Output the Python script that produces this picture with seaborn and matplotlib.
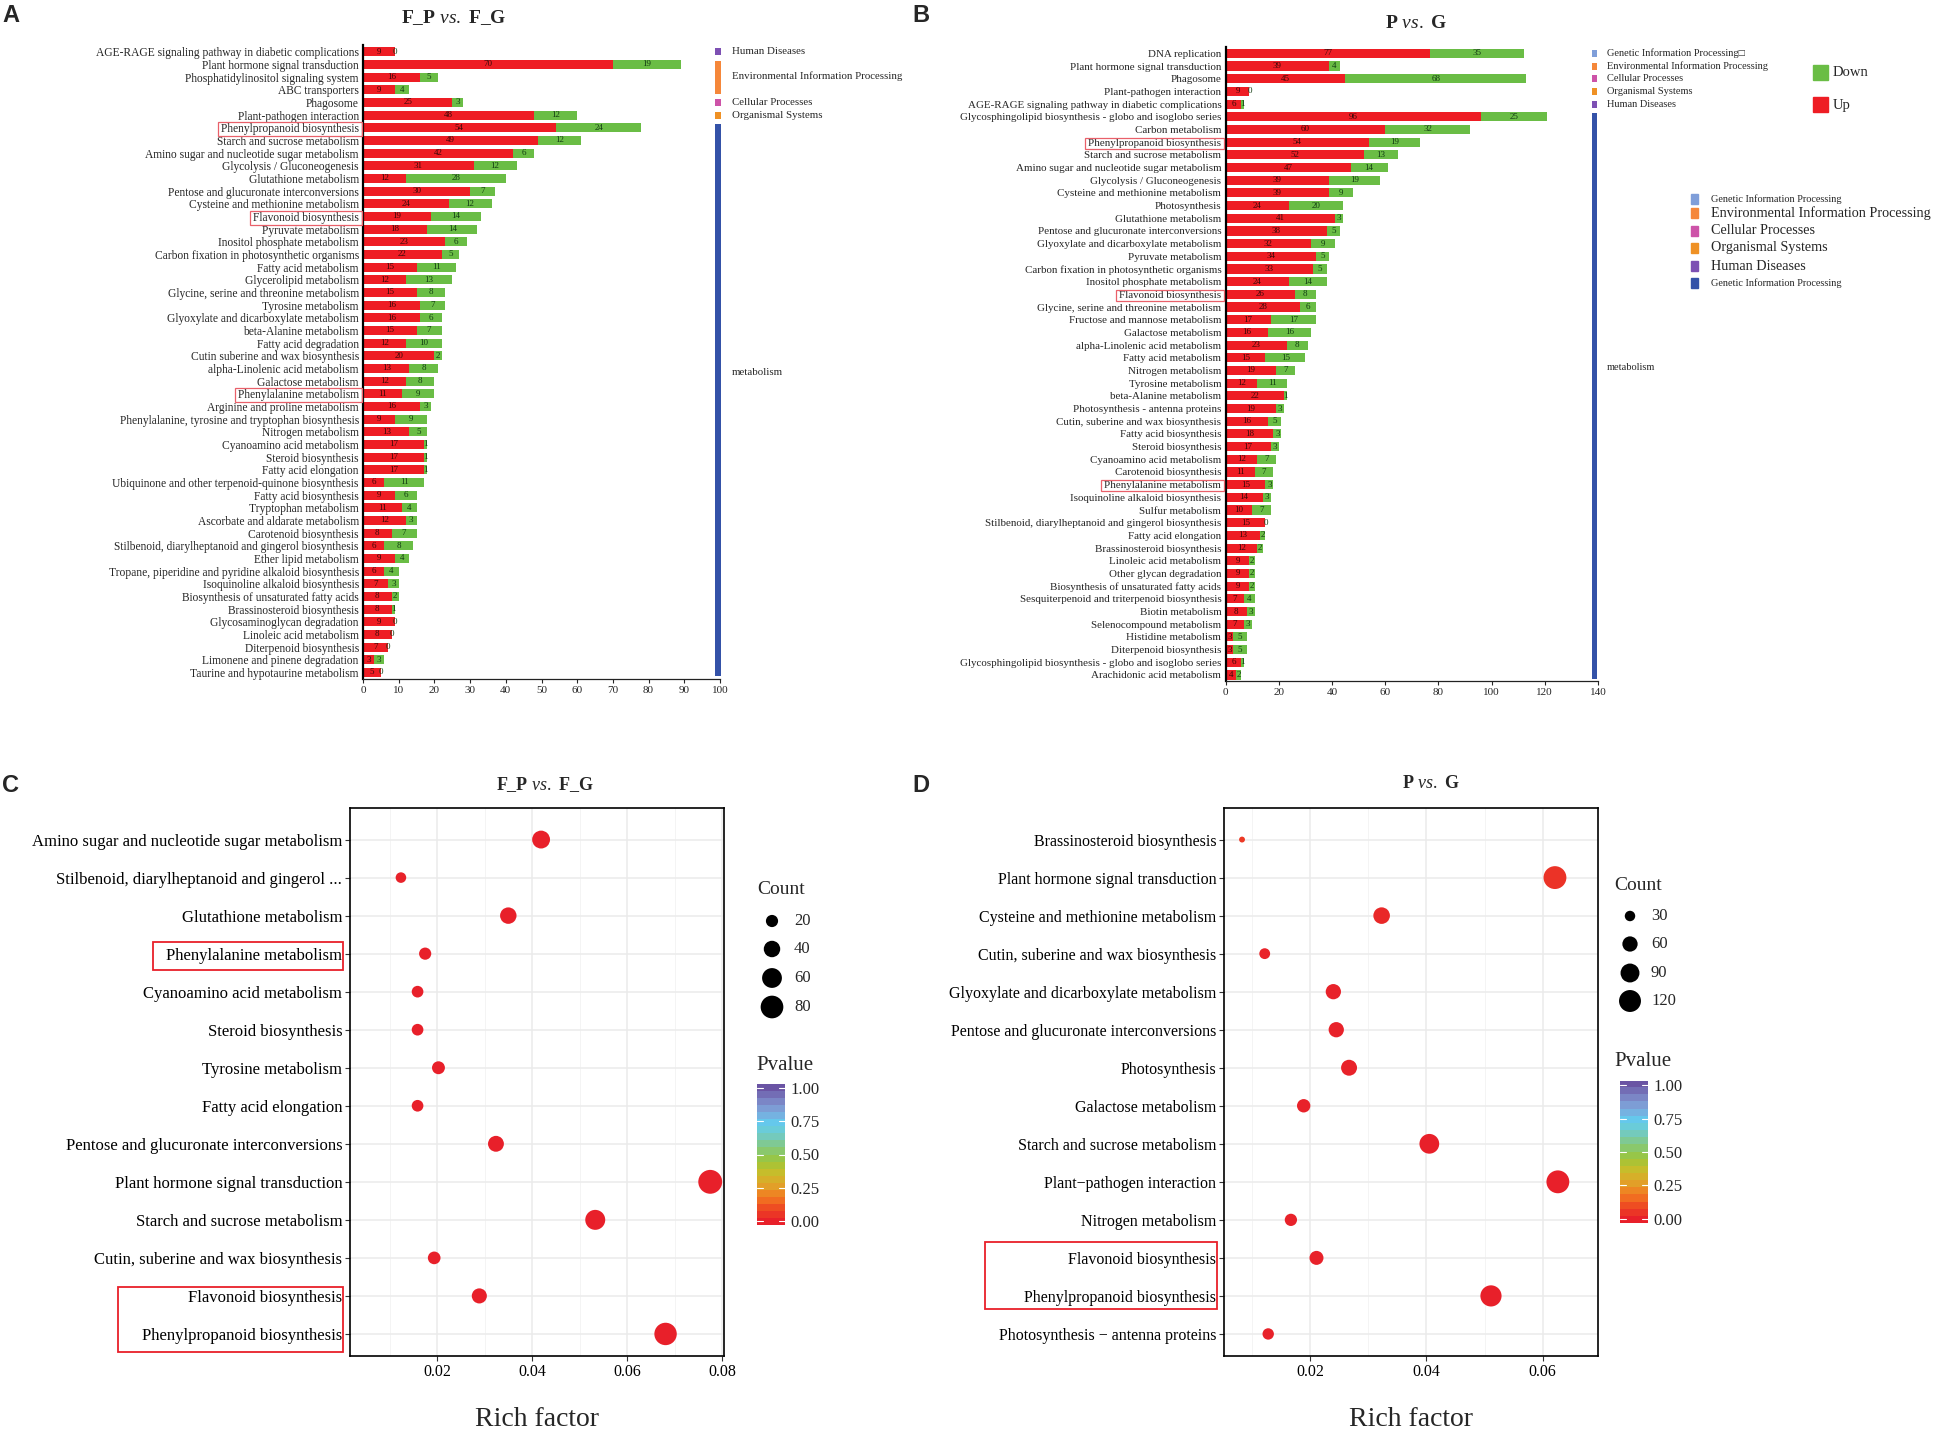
import numpy as np
import pandas as pd
import matplotlib
matplotlib.use("Agg")
import matplotlib.pyplot as plt
from matplotlib.colors import LinearSegmentedColormap
from matplotlib.patches import Rectangle
import seaborn as sns

# ---------------- data ----------------
# panel A: F_P vs. F_G, number of up / down genes per KEGG pathway
a_names = [
    "AGE-RAGE signaling pathway in diabetic complications",
    "Plant hormone signal transduction",
    "Phosphatidylinositol signaling system",
    "ABC transporters",
    "Phagosome",
    "Plant-pathogen interaction",
    "Phenylpropanoid biosynthesis",
    "Starch and sucrose metabolism",
    "Amino sugar and nucleotide sugar metabolism",
    "Glycolysis / Gluconeogenesis",
    "Glutathione metabolism",
    "Pentose and glucuronate interconversions",
    "Cysteine and methionine metabolism",
    "Flavonoid biosynthesis",
    "Pyruvate metabolism",
    "Inositol phosphate metabolism",
    "Carbon fixation in photosynthetic organisms",
    "Fatty acid metabolism",
    "Glycerolipid metabolism",
    "Glycine, serine and threonine metabolism",
    "Tyrosine metabolism",
    "Glyoxylate and dicarboxylate metabolism",
    "beta-Alanine metabolism",
    "Fatty acid degradation",
    "Cutin suberine and wax biosynthesis",
    "alpha-Linolenic acid metabolism",
    "Galactose metabolism",
    "Phenylalanine metabolism",
    "Arginine and proline metabolism",
    "Phenylalanine, tyrosine and tryptophan biosynthesis",
    "Nitrogen metabolism",
    "Cyanoamino acid metabolism",
    "Steroid biosynthesis",
    "Fatty acid elongation",
    "Ubiquinone and other terpenoid-quinone biosynthesis",
    "Fatty acid biosynthesis",
    "Tryptophan metabolism",
    "Ascorbate and aldarate metabolism",
    "Carotenoid biosynthesis",
    "Stilbenoid, diarylheptanoid and gingerol biosynthesis",
    "Ether lipid metabolism",
    "Tropane, piperidine and pyridine alkaloid biosynthesis",
    "Isoquinoline alkaloid biosynthesis",
    "Biosynthesis of unsaturated fatty acids",
    "Brassinosteroid biosynthesis",
    "Glycosaminoglycan degradation",
    "Linoleic acid metabolism",
    "Diterpenoid biosynthesis",
    "Limonene and pinene degradation",
    "Taurine and hypotaurine metabolism",
]
a_up = [9, 70, 16, 9, 25, 48, 54, 49, 42, 31, 12, 30, 24, 19, 18, 23, 22, 15, 12, 15,
        16, 16, 15, 12, 20, 13, 12, 11, 16, 9, 13, 17, 17, 17, 6, 9, 11, 12, 8, 6,
        9, 6, 7, 8, 8, 9, 8, 7, 3, 5]
a_down = [0, 19, 5, 4, 3, 12, 24, 12, 6, 12, 28, 7, 12, 14, 14, 6, 5, 11, 13, 8,
          7, 6, 7, 10, 2, 8, 8, 9, 3, 9, 5, 1, 1, 1, 11, 6, 4, 3, 7, 8,
          4, 4, 3, 2, 1, 0, 0, 0, 3, 0]
a_groups = [("Human Diseases", 0, 0), ("Environmental Information Processing", 1, 3),
            ("Cellular Processes", 4, 4), ("Organismal Systems", 5, 5), ("metabolism", 6, 49)]

# panel B: P vs. G
b_names = [
    "DNA replication",
    "Plant hormone signal transduction",
    "Phagosome",
    "Plant-pathogen interaction",
    "AGE-RAGE signaling pathway in diabetic complications",
    "Glycosphingolipid biosynthesis - globo and isoglobo series",
    "Carbon metabolism",
    "Phenylpropanoid biosynthesis",
    "Starch and sucrose metabolism",
    "Amino sugar and nucleotide sugar metabolism",
    "Glycolysis / Gluconeogenesis",
    "Cysteine and methionine metabolism",
    "Photosynthesis",
    "Glutathione metabolism",
    "Pentose and glucuronate interconversions",
    "Glyoxylate and dicarboxylate metabolism",
    "Pyruvate metabolism",
    "Carbon fixation in photosynthetic organisms",
    "Inositol phosphate metabolism",
    "Flavonoid biosynthesis",
    "Glycine, serine and threonine metabolism",
    "Fructose and mannose metabolism",
    "Galactose metabolism",
    "alpha-Linolenic acid metabolism",
    "Fatty acid metabolism",
    "Nitrogen metabolism",
    "Tyrosine metabolism",
    "beta-Alanine metabolism",
    "Photosynthesis - antenna proteins",
    "Cutin, suberine and wax biosynthesis",
    "Fatty acid biosynthesis",
    "Steroid biosynthesis",
    "Cyanoamino acid metabolism",
    "Carotenoid biosynthesis",
    "Phenylalanine metabolism",
    "Isoquinoline alkaloid biosynthesis",
    "Sulfur metabolism",
    "Stilbenoid, diarylheptanoid and gingerol biosynthesis",
    "Fatty acid elongation",
    "Brassinosteroid biosynthesis",
    "Linoleic acid metabolism",
    "Other glycan degradation",
    "Biosynthesis of unsaturated fatty acids",
    "Sesquiterpenoid and triterpenoid biosynthesis",
    "Biotin metabolism",
    "Selenocompound metabolism",
    "Histidine metabolism",
    "Diterpenoid biosynthesis",
    "Glycosphingolipid biosynthesis - globo and isoglobo series",
    "Arachidonic acid metabolism",
]
b_up = [77, 39, 45, 9, 6, 96, 60, 54, 52, 47, 39, 39, 24, 41, 38, 32, 34, 33, 24, 26,
        28, 17, 16, 23, 15, 19, 12, 22, 19, 16, 18, 17, 12, 11, 15, 14, 10, 15, 13, 12,
        9, 9, 9, 7, 8, 7, 3, 3, 6, 4]
b_down = [35, 4, 68, 0, 1, 25, 32, 19, 13, 14, 19, 9, 20, 3, 5, 9, 5, 5, 14, 8,
          6, 17, 16, 8, 15, 7, 11, 1, 3, 5, 3, 3, 7, 7, 3, 3, 7, 0, 2, 2,
          2, 2, 2, 4, 3, 3, 5, 5, 1, 2]
b_groups = [("Genetic Information Processing\u25a1", 0, 0), ("Environmental Information Processing", 1, 1),
            ("Cellular Processes", 2, 2), ("Organismal Systems", 3, 3), ("Human Diseases", 4, 4),
            ("metabolism", 5, 49)]
b_key = ["Genetic Information Processing", "Environmental Information Processing",
         "Cellular Processes", "Organismal Systems", "Human Diseases", "Genetic Information Processing"]

# panel C: F_P vs. F_G enrichment
c_names = [
    "Amino sugar and nucleotide sugar metabolism",
    "Stilbenoid, diarylheptanoid and gingerol ...",
    "Glutathione metabolism",
    "Phenylalanine metabolism",
    "Cyanoamino acid metabolism",
    "Steroid biosynthesis",
    "Tyrosine metabolism",
    "Fatty acid elongation",
    "Pentose and glucuronate interconversions",
    "Plant hormone signal transduction",
    "Starch and sucrose metabolism",
    "Cutin, suberine and wax biosynthesis",
    "Flavonoid biosynthesis",
    "Phenylpropanoid biosynthesis",
]
c_rich = [0.0419, 0.0124, 0.0350, 0.0175, 0.0159, 0.0159, 0.0203, 0.0159, 0.0324, 0.0775,
          0.0533, 0.0194, 0.0289, 0.0681]
c_count = [48, 14, 40, 20, 18, 18, 23, 18, 37, 89, 61, 22, 33, 78]
c_pval = [0.001, 0.004, 0.002, 0.003, 0.003, 0.003, 0.003, 0.003, 0.002, 0.001,
          0.001, 0.003, 0.002, 0.001]

# panel D: P vs. G enrichment
d_names = [
    "Brassinosteroid biosynthesis",
    "Plant hormone signal transduction",
    "Cysteine and methionine metabolism",
    "Cutin, suberine and wax biosynthesis",
    "Glyoxylate and dicarboxylate metabolism",
    "Pentose and glucuronate interconversions",
    "Photosynthesis",
    "Galactose metabolism",
    "Starch and sucrose metabolism",
    "Plant\u2212pathogen interaction",
    "Nitrogen metabolism",
    "Flavonoid biosynthesis",
    "Phenylpropanoid biosynthesis",
    "Photosynthesis \u2212 antenna proteins",
]
d_rich = [0.0083, 0.0621, 0.0323, 0.0122, 0.0240, 0.0245, 0.0267, 0.0189, 0.0405, 0.0626,
          0.0167, 0.0211, 0.0511, 0.0128]
d_count = [12, 132, 70, 32, 60, 60, 65, 47, 98, 138, 40, 51, 112, 35]
d_pval = [0.06, 0.045, 0.02, 0.008, 0.005, 0.005, 0.005, 0.005, 0.002, 0.001,
          0.005, 0.004, 0.001, 0.006]

# ---------------- style ----------------
RED = "#ee1d24"
GREEN = "#6abd45"
CAT_COLORS = {
    "Genetic": "#7f9ed9",
    "Environmental": "#f5873a",
    "Cellular": "#cd53a8",
    "Organismal": "#ef9125",
    "Human": "#7d50b3",
    "metabolism": "#3452a8",
}
PV_COLORS = ["#e8202a", "#ee4723", "#f37a21", "#e1a429", "#c9bd2b", "#9cc63b",
             "#86c97a", "#74cbc0", "#62cdee", "#7ea8dc", "#7b82c4", "#6a54a4"]
pcmap = LinearSegmentedColormap.from_list("pval", PV_COLORS)

sns.set_theme(style="ticks")
plt.rcParams["font.family"] = ["Liberation Serif", "DejaVu Sans"]
plt.rcParams["mathtext.fontset"] = "custom"
plt.rcParams["mathtext.rm"] = "Liberation Serif"
plt.rcParams["mathtext.it"] = "Liberation Serif:italic"
plt.rcParams["mathtext.bf"] = "Liberation Serif:bold"

W, H = 1938, 1435
fig = plt.figure(figsize=(W / 100, H / 100), dpi=100)
fig.patch.set_facecolor("white")


def add_ax(left, top, right, bottom):
    return fig.add_axes([left / W, 1 - bottom / H, (right - left) / W, (bottom - top) / H])


def cat_color(label):
    for k, c in CAT_COLORS.items():
        if label.startswith(k):
            return c
    return "grey"


def bar_panel(ax, names, up, down, xmax, step, groups, strip_x, strip_w, text_x, fs, gfs):
    n = len(names)
    df = pd.DataFrame({"key": [str(i) for i in range(n)], "up": up, "down": down})
    df["total"] = df["up"] + df["down"]
    order = list(df["key"])
    sns.barplot(data=df, x="total", y="key", order=order, color=GREEN, saturation=1,
                width=0.72, errorbar=None, linewidth=0, ax=ax)
    sns.barplot(data=df, x="up", y="key", order=order, color=RED, saturation=1,
                width=0.72, errorbar=None, linewidth=0, ax=ax)
    for i, (u, d) in enumerate(zip(up, down)):
        ax.text(u / 2, i, str(u), ha="center", va="center", fontsize=6.5, color="#3a0808")
        ax.text(u + d / 2, i, str(d), ha="center", va="center", fontsize=6.5, color="#123d12")
    for label, a, b in groups:
        h = (b - a) + 0.6 if b > a else 0.55
        ax.barh((a + b) / 2, strip_w, left=strip_x, height=h, color=cat_color(label),
                clip_on=False, linewidth=0)
        ax.text(text_x, a + (b - a) * 0.45, label, fontsize=gfs, va="center", ha="left",
                clip_on=False)
    ax.set_xlim(0, xmax)
    ax.set_ylim(n - 0.5, -0.5)
    ax.set_xticks(np.arange(0, xmax + 1, step))
    ax.set_yticks(range(n))
    ax.set_yticklabels(names)
    ax.set_xlabel("")
    ax.set_ylabel("")
    sns.despine(ax=ax)
    ax.spines["left"].set_linewidth(1.6)
    ax.spines["left"].set_color("black")
    ax.spines["bottom"].set_linewidth(0.9)
    ax.spines["bottom"].set_color("#222222")
    ax.tick_params(axis="y", length=0, pad=3, labelsize=fs)
    ax.tick_params(axis="x", length=3, width=0.8, pad=2, labelsize=8)


def size_fn(v, norm, rng):
    t = np.clip((np.asarray(v, float) - norm[0]) / (norm[1] - norm[0]), 0, 1)
    return rng[0] + t * (rng[1] - rng[0])


def bubble_panel(ax, names, rich, count, pval, snorm, srange, xlim, xmajor, xminor, fs):
    df = pd.DataFrame({"pathway": names, "rich": rich, "count": count, "p": pval})
    sns.scatterplot(data=df, x="rich", y="pathway", size="count", sizes=srange, size_norm=snorm,
                    hue="p", hue_norm=(0, 1), palette=pcmap, linewidth=0, legend=False,
                    ax=ax, zorder=3)
    ax.set_xlim(*xlim)
    ax.set_ylim(len(names) - 1 + 0.58, -0.83)
    ax.set_xticks(xmajor)
    ax.set_xticks(xminor, minor=True)
    ax.set_xticklabels([f"{t:.2f}" for t in xmajor])
    ax.grid(True, which="major", color="#ebebeb", linewidth=1.1)
    ax.grid(True, which="minor", axis="x", color="#f3f3f3", linewidth=0.6)
    ax.set_axisbelow(True)
    ax.tick_params(which="minor", length=0)
    ax.tick_params(axis="both", which="major", length=3.5, width=0.8, color="#333333",
                   labelsize=11.5, labelcolor="black", pad=2)
    ax.tick_params(axis="y", labelsize=fs)
    for s in ax.spines.values():
        s.set_color("black")
        s.set_linewidth(1.2)
    ax.set_ylabel("")
    ax.set_xlabel("Rich factor", fontsize=20, labelpad=20)


def colorbar(left, top, right, bottom):
    cax = add_ax(left, top, right, bottom)
    cax.imshow(np.linspace(0, 1, 20).reshape(-1, 1), cmap=pcmap, aspect="auto",
               origin="lower", extent=(0, 1, -0.03, 1.03))
    cax.set_xlim(0, 1)
    cax.set_ylim(-0.03, 1.03)
    ticks = [0, 0.25, 0.5, 0.75, 1.0]
    for t in ticks:
        cax.plot([0, 0.2], [t, t], color="white", lw=0.8)
        cax.plot([0.8, 1], [t, t], color="white", lw=0.8)
    cax.set_xticks([])
    cax.yaxis.tick_right()
    cax.set_yticks(ticks)
    cax.set_yticklabels([f"{t:.2f}" for t in ticks])
    cax.tick_params(axis="y", length=0, pad=4, labelsize=12)
    for s in cax.spines.values():
        s.set_visible(False)


# overlay in figure pixels for titles and legend keys
ov = fig.add_axes([0, 0, 1, 1])
ov.set_xlim(0, W)
ov.set_ylim(H, 0)
ov.axis("off")
ov.patch.set_facecolor("none")

# ---------------- panel A ----------------
axA = add_ax(363, 45.4, 720, 678.8)
bar_panel(axA, a_names, a_up, a_down, 100, 10, a_groups, 98.6, 1.8, 103.4, 8.3, 7.8)

# ---------------- panel B ----------------
axB = add_ax(1225.5, 47, 1598, 681.3)
bar_panel(axB, b_names, b_up, b_down, 140, 20, b_groups, 137.8, 2.0, 143.4, 7.9, 7.5)

# Down / Up key
ov.add_patch(Rectangle((1813, 65), 15, 15, color=GREEN))
ov.add_patch(Rectangle((1813, 97), 15, 15, color=RED))
ov.text(1833, 73, "Down", fontsize=10.5, va="center")
ov.text(1833, 105, "Up", fontsize=10.5, va="center")

# second category key in B
key_y = [199, 213, 231, 248, 266, 283]
key_fs = [7.4, 10.2, 10.2, 10.2, 10.2, 7.4]
key_cols = ["Genetic", "Environmental", "Cellular", "Organismal", "Human", "metabolism"]
for lab, y, fs, ck in zip(b_key, key_y, key_fs, key_cols):
    ov.add_patch(Rectangle((1691, y - 5), 7, 10, color=CAT_COLORS[ck]))
    ov.text(1711, y, lab, fontsize=fs, va="center")

# ---------------- panel C ----------------
axC = add_ax(350, 808, 724, 1356)
c_norm, c_rng = (0, 100), (13.7, 330)
bubble_panel(axC, c_names, c_rich, c_count, c_pval, c_norm, c_rng, (0.00168, 0.0804),
             [0.02, 0.04, 0.06, 0.08], [0.01, 0.03, 0.05, 0.07], 12)

# ---------------- panel D ----------------
axD = add_ax(1224, 808, 1598, 1356)
d_norm, d_rng = (5, 130), (3, 271)
bubble_panel(axD, d_names, d_rich, d_count, d_pval, d_norm, d_rng, (0.0052, 0.0695),
             [0.02, 0.04, 0.06], [0.01, 0.03, 0.05], 11.5)

# count keys
for (tx, ty, vals, ys, cx, lx, norm, rng) in [
        (757, 889, [20, 40, 60, 80], [921, 949, 978, 1007], 772, 794, c_norm, c_rng),
        (1614, 885, [30, 60, 90, 120], [916, 944, 973, 1001], 1630, 1651, d_norm, d_rng)]:
    ov.text(tx, ty, "Count", fontsize=14, va="center", ha="left")
    ov.scatter([cx] * len(vals), ys, s=size_fn(vals, norm, rng), color="black", linewidths=0)
    for v, y in zip(vals, ys):
        ov.text(lx, y, str(v), fontsize=12, va="center", ha="left")

ov.text(756, 1065, "Pvalue", fontsize=15, va="center", ha="left")
ov.text(1614, 1062, "Pvalue", fontsize=15, va="center", ha="left")
colorbar(757, 1084, 785, 1225)
colorbar(1620, 1081, 1648, 1223)

# titles and panel letters
ov.text(454, 18, r"F_P $\mathit{vs.}$ F_G", fontsize=14, fontweight="bold", ha="center", va="center")
ov.text(1416, 23, r"P $\mathit{vs.}$ G", fontsize=14, fontweight="bold", ha="center", va="center")
ov.text(545, 785, r"F_P $\mathit{vs.}$ F_G", fontsize=13, fontweight="bold", ha="center", va="center")
ov.text(1431, 784, r"P $\mathit{vs.}$ G", fontsize=13, fontweight="bold", ha="center", va="center")
for letter, x, y in [("A", 11, 16), ("B", 921, 16), ("C", 11, 786), ("D", 921, 786)]:
    ov.text(x, y, letter, fontsize=17, fontweight="bold", family="Liberation Sans",
            ha="center", va="center")

# ---------------- red boxes round highlighted labels ----------------
fig.canvas.draw()
renderer = fig.canvas.get_renderer()


def label_box(ax, wanted, pl, pr, pt, pb, color, lw):
    exts = [t.get_window_extent(renderer) for t in ax.get_yticklabels() if t.get_text() in wanted]
    x0 = min(e.x0 for e in exts) - pl
    x1 = max(e.x1 for e in exts) + pr
    y0 = min(e.y0 for e in exts) - pb
    y1 = max(e.y1 for e in exts) + pt
    fig.add_artist(Rectangle((x0 / W, y0 / H), (x1 - x0) / W, (y1 - y0) / H,
                             transform=fig.transFigure, fill=False, ec=color, lw=lw))


for ax in (axA, axB):
    for name in ["Phenylpropanoid biosynthesis", "Flavonoid biosynthesis", "Phenylalanine metabolism"]:
        label_box(ax, [name], 3, 3, 1, 1, "#e9606a", 0.9)
label_box(axC, ["Phenylalanine metabolism"], 13, 1, 6, 6, "#e8202a", 1.3)
label_box(axC, ["Flavonoid biosynthesis", "Phenylpropanoid biosynthesis"], 24, 1, 3, 8, "#e8202a", 1.3)
label_box(axD, ["Flavonoid biosynthesis", "Phenylpropanoid biosynthesis"], 39, 1, 10, 3, "#e8202a", 1.3)

fig.savefig("out.png", dpi=100, facecolor="white")
